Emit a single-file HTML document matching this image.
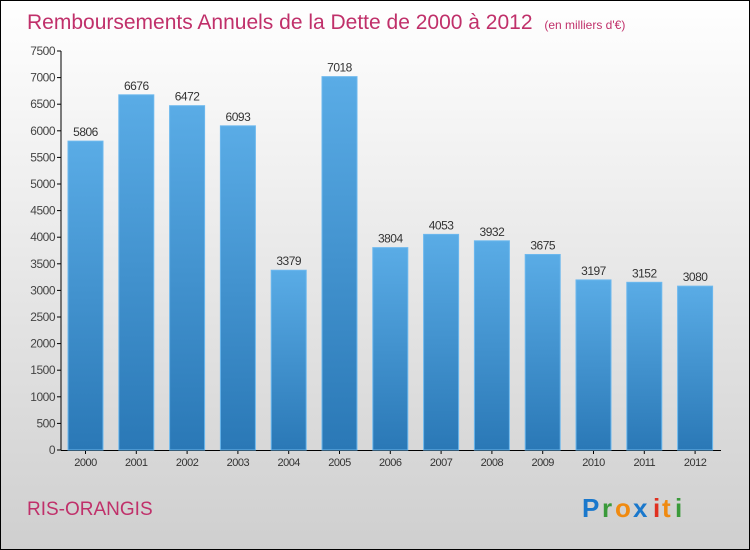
<!DOCTYPE html>
<html><head><meta charset="utf-8"><style>
body{margin:0}
#c{width:750px;height:550px;position:relative;overflow:hidden;font-family:"Liberation Sans",sans-serif}
</style></head><body>
<div id="c">
<svg id="s" width="750" height="550" xmlns="http://www.w3.org/2000/svg">
<defs>
<linearGradient id="bg" x1="0" y1="0" x2="0" y2="1"><stop offset="0" stop-color="#ffffff"/><stop offset="1" stop-color="#cfcfcf"/></linearGradient>
<linearGradient id="bar" x1="0" y1="0" x2="0" y2="1"><stop offset="0" stop-color="#5aace6"/><stop offset="1" stop-color="#2a78b6"/></linearGradient>
</defs>
<rect x="0.5" y="0.5" width="749" height="549" fill="url(#bg)" stroke="#000"/>
<text x="27" y="29" font-size="21" fill="#c0306a">Remboursements Annuels de la Dette de 2000 à 2012 <tspan font-size="12" dx="6">(en milliers d'€)</tspan></text>
<g id="axes"></g><g id="bars"></g>
<text x="27" y="515" font-size="19" fill="#c0306a">RIS-ORANGIS</text>
<g font-size="26" font-weight="bold">
<text x="582" y="517" fill="#1a78cc">P</text><text x="602" y="517" fill="#3a9a3a">r</text><text x="615" y="517" fill="#f08a10">o</text><text x="633" y="517" fill="#1a78cc">x</text><text x="653" y="517" fill="#e03020">i</text><text x="662" y="517" fill="#f08a10">t</text><text x="675" y="517" fill="#3a9a3a">i</text>
</g>
</svg>
</div>
<script>
const years=["2000","2001","2002","2003","2004","2005","2006","2007","2008","2009","2010","2011","2012"];
const values=[5806,6676,6472,6093,3379,7018,3804,4053,3932,3675,3197,3152,3080];
const ticks=[0,500,1000,1500,2000,2500,3000,3500,4000,4500,5000,5500,6000,6500,7000,7500];
const NS="http://www.w3.org/2000/svg";
const y=v=>450-v*399/7500;
const x=i=>85.5+i*50.8;
function mk(t,a,p,txt){const e=document.createElementNS(NS,t);for(const k in a)e.setAttribute(k,a[k]);if(txt!=null)e.textContent=txt;p.appendChild(e);return e;}
const ax=document.getElementById('axes'),bs=document.getElementById('bars');
const yl=mk('line',{x1:61,y1:51,x2:61,y2:450,stroke:'#000'},ax);


const xl=mk('line',{x1:61,y1:450.5,x2:721,y2:450.5,stroke:'#000'},ax);


ticks.forEach(t=>{
mk('line',{x1:57,x2:61,y1:y(t),y2:y(t),stroke:'#000'},ax);
const l=mk('text',{x:55,y:y(t)+4,'text-anchor':'end','font-size':12,fill:'#444','letter-spacing':'-0.5'},ax,t);


});
years.forEach((yr,i)=>{
const v=values[i];
const r=mk('rect',{x:x(i)-17.5,y:y(v),width:35,height:450-y(v),fill:'url(#bar)',stroke:'#6cb8ee','stroke-width':1},bs);


const vl=mk('text',{x:x(i),y:y(v)-5,'text-anchor':'middle','font-size':12,fill:'#333','letter-spacing':'-0.5'},bs,v);


mk('line',{x1:x(i),x2:x(i),y1:450,y2:454,stroke:'#000'},ax);
const xt=mk('text',{x:x(i),y:466,'text-anchor':'middle','font-size':11,fill:'#333','letter-spacing':'-0.5'},ax,yr);


});
</script>
</body></html>
